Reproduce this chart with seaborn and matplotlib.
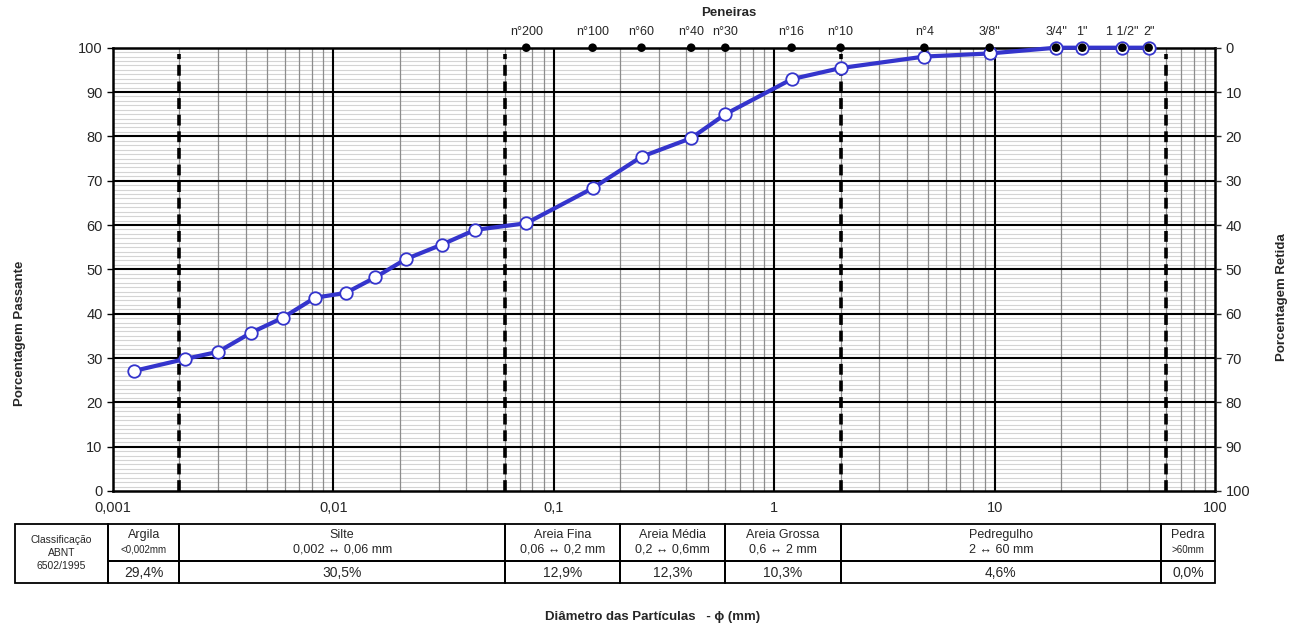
import numpy as np
import pandas as pd
import matplotlib
matplotlib.use("Agg")
import matplotlib.pyplot as plt
import matplotlib.ticker as mticker
from matplotlib.transforms import blended_transform_factory
from matplotlib.patches import Rectangle
import seaborn as sns

# Grain-size distribution (percent passing vs particle diameter, mm)
diameter_mm = [0.00125, 0.00213, 0.00300, 0.00423, 0.00590, 0.00825, 0.0114,
               0.0155, 0.0213, 0.0311, 0.0439, 0.075, 0.15, 0.25, 0.42, 0.6,
               1.2, 2.0, 4.8, 9.5, 19.0, 25.0, 38.0, 50.0]
passing_pct = [27.1, 29.8, 31.4, 35.7, 39.1, 43.6, 44.7, 48.2, 52.3, 55.6,
               58.9, 60.4, 68.3, 75.4, 79.6, 85.0, 92.9, 95.4, 98.0, 98.7,
               100.0, 100.0, 100.0, 100.0]

# Sieve series
sieve_names = ["n°200", "n°100", "n°60", "n°40", "n°30", "n°16", "n°10",
               "n°4", '3/8"', '3/4"', '1"', '1 1/2"', '2"']
sieve_mm = [0.075, 0.15, 0.25, 0.42, 0.6, 1.2, 2.0, 4.8, 9.5, 19.0, 25.0, 38.0, 50.0]

# ABNT NBR 6502/1995 class limits (mm)
class_limits = [0.002, 0.06, 2.0, 60.0]
class_edges = [3.6e-4, 9.5e-4, 0.002, 0.06, 0.2, 0.6, 2.0, 57.0, 100.0]
class_names = ["Argila", "Silte", "Areia Fina", "Areia Média", "Areia Grossa",
               "Pedregulho", "Pedra"]
class_ranges = ["<0,002mm", "0,002 ↔ 0,06 mm", "0,06 ↔ 0,2 mm", "0,2 ↔ 0,6mm",
                "0,6 ↔ 2 mm", "2 ↔ 60 mm", ">60mm"]
class_pct = ["29,4%", "30,5%", "12,9%", "12,3%", "10,3%", "4,6%", "0,0%"]

x_ticks = [0.001, 0.01, 0.1, 1, 10, 100]
x_ticklabels = ["0,001", "0,01", "0,1", "1", "10", "100"]
y_ticks = list(range(0, 101, 10))

sns.set_style("white")
plt.rcParams["font.family"] = ["Liberation Sans", "DejaVu Sans"]
narrow = ["Liberation Sans Narrow", "Liberation Sans", "DejaVu Sans"]

W, H = 1289, 627
fig = plt.figure(figsize=(W / 100, H / 100), dpi=100)
ax = fig.add_axes([113 / W, 1 - 491 / H, (1215 - 113) / W, (491 - 47.7) / H])
ax.set_xscale("log")
ax.set_xlim(0.001, 100)
ax.set_ylim(0, 100)

# Grid: light minor horizontals, grey minor verticals, black majors
for v in np.arange(1, 100, 1):
    if v % 10:
        ax.axhline(v, color="#d4d4d4", lw=0.8, zorder=0)
for dec in [0.001, 0.01, 0.1, 1, 10]:
    for m in range(2, 10):
        ax.axvline(dec * m, color="#8c8c8c", lw=0.9, zorder=0.5)
for v in range(10, 100, 10):
    ax.axhline(v, color="black", lw=1.5, zorder=1)
for dec in [0.01, 0.1, 1, 10]:
    ax.axvline(dec, color="black", lw=1.5, zorder=1)

# Class limit lines
for lim in class_limits:
    ax.axvline(lim, ymax=0.985, color="black", lw=2.6, ls=(0, (3, 1.6)), zorder=2)

# Grain-size curve
df = pd.DataFrame({"d": diameter_mm, "p": passing_pct})
sns.lineplot(data=df, x="d", y="p", ax=ax, sort=False, color="#3434CC", lw=3,
             marker="o", markersize=9, markerfacecolor="white",
             markeredgecolor="#3434CC", markeredgewidth=1.3, zorder=4,
             clip_on=False)

# Sieve markers on the top frame
sv = pd.DataFrame({"d": sieve_mm, "p": [100] * len(sieve_mm)})
sns.scatterplot(data=sv, x="d", y="p", ax=ax, color="black", s=38,
                edgecolor="none", zorder=5, clip_on=False)
for name, d in zip(sieve_names, sieve_mm):
    ax.text(d, 102.3, name, ha="center", va="bottom", fontsize=9,
            family=narrow)

ax.set_xticks(x_ticks)
ax.set_xticklabels(x_ticklabels)
ax.xaxis.set_minor_locator(mticker.NullLocator())
ax.set_yticks(y_ticks)
ax.tick_params(axis="both", which="major", direction="out", length=4,
               width=1, labelsize=10.5, color="black")
ax.set_xlabel("")
ax.set_ylabel("")
for s in ax.spines.values():
    s.set_linewidth(1.8)
    s.set_color("black")

ax2 = ax.twinx()
ax2.set_ylim(100, 0)
ax2.set_yticks(y_ticks)
ax2.tick_params(axis="y", direction="out", length=4, width=1, labelsize=10.5)
for s in ax2.spines.values():
    s.set_visible(False)

# Titles
fig.text(729 / W, 1 - 13 / H, "Peneiras", ha="center", va="center",
         fontsize=9.5, fontweight="bold")
fig.text(20 / W, 1 - 333 / H, "Porcentagem Passante", ha="center",
         va="center", rotation=90, fontsize=9.5, fontweight="bold")
fig.text(1282 / W, 1 - 297 / H, "Porcentagem Retida", ha="center",
         va="center", rotation=90, fontsize=9.5, fontweight="bold")
fig.text(653 / W, 1 - 617 / H, "Diâmetro das Partículas   - ϕ (mm)",
         ha="center", va="center", fontsize=9.5, fontweight="bold",
         family=["Liberation Sans", "DejaVu Sans"])

# Classification table below the chart
tab = fig.add_axes([0, 0, 1, 1], facecolor="none")
tab.set_xlim(0, W)
tab.set_ylim(H, 0)
tab.axis("off")
tr = blended_transform_factory(ax.transData, tab.transData)
top, mid, bot = 524, 561, 583
lw_t = 1.3
# Header cell spanning both rows
tab.add_patch(Rectangle((class_edges[0], top), class_edges[1] - class_edges[0],
                        bot - top, transform=tr, fill=False, lw=lw_t,
                        ec="black", clip_on=False))
gx0 = np.sqrt(class_edges[0] * class_edges[1])
for i, txt in enumerate(["Classificação", "ABNT", "6502/1995"]):
    tab.text(gx0, 540 + i * 13, txt, transform=tr, ha="center", va="center",
             fontsize=7.5, family=narrow)
for i, (name, rng, pct) in enumerate(zip(class_names, class_ranges, class_pct)):
    x0, x1 = class_edges[i + 1], class_edges[i + 2]
    tab.add_patch(Rectangle((x0, top), x1 - x0, mid - top, transform=tr,
                            fill=False, lw=lw_t, ec="black", clip_on=False))
    tab.add_patch(Rectangle((x0, mid), x1 - x0, bot - mid, transform=tr,
                            fill=False, lw=lw_t, ec="black", clip_on=False))
    xc = np.sqrt(x0 * x1)
    small = rng.startswith("<") or rng.startswith(">")
    tab.text(xc, 535, name, transform=tr, ha="center", va="center",
             fontsize=9, family=narrow)
    tab.text(xc, 550, rng, transform=tr, ha="center", va="center",
             fontsize=7 if small else 9, family=narrow)
    tab.text(xc, 573, pct, transform=tr, ha="center", va="center",
             fontsize=10, family=narrow)

fig.savefig("out.png", dpi=100)
